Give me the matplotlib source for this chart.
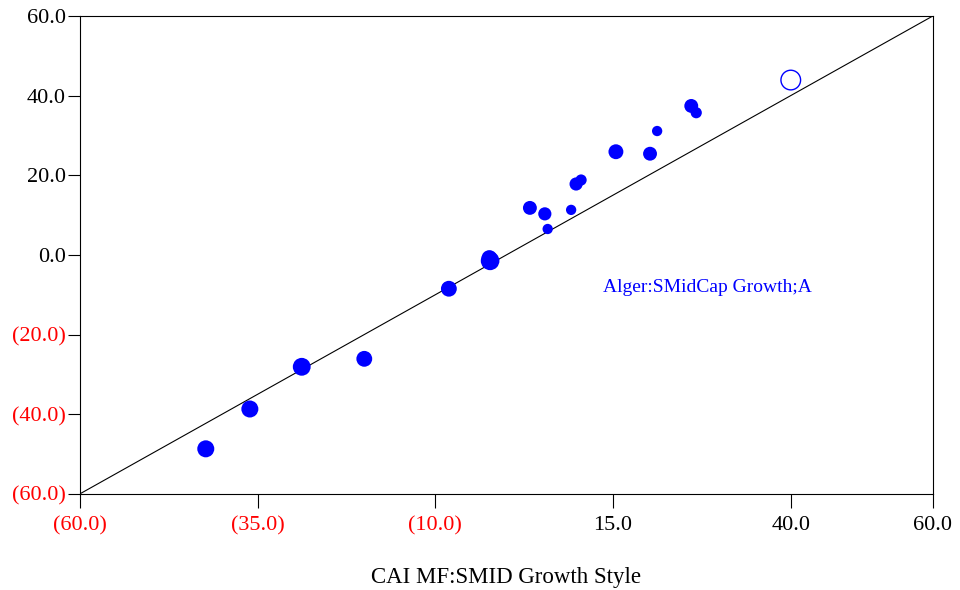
import numpy as np
import matplotlib.pyplot as plt

plt.rcParams['font.family'] = ['Liberation Serif', 'DejaVu Serif']

# Datos de los fondos (x = estilo, y = fondo)
x_vals = [-42.3, -36.1, -28.8, -20.0, -8.1, -2.3, -2.4, 3.3, 5.4, 5.8, 9.1, 9.8, 10.5, 15.4, 20.2, 21.2, 26.0, 26.7]
y_vals = [-48.7, -38.7, -28.1, -26.1, -8.5, -1.5, -0.8, 11.8, 10.3, 6.5, 11.3, 17.8, 18.8, 25.9, 25.4, 31.1, 37.4, 35.7]
tamanos = [150, 150, 165, 130, 130, 180, 130, 100, 90, 55, 55, 90, 65, 115, 100, 55, 100, 65]

# Fondo destacado
x_dest = [40.0]
y_dest = [43.9]
etiqueta_dest = 'Alger:SMidCap Growth;A'

ticks_x = [-60, -35, -10, 15, 40, 60]
ticks_y = [-60, -40, -20, 0, 20, 40, 60]
titulo_x = 'CAI MF:SMID Growth Style'


def formato(v):
    return f'({abs(v):.1f})' if v < 0 else f'{v:.1f}'


fig = plt.figure(figsize=(9.6, 5.9), dpi=100)
ax = fig.add_axes([0.0833, 0.163, 0.8885, 0.810])

ax.plot([-60, 60], [-60, 60], color='black', linewidth=0.8, zorder=1)
ax.scatter(x_vals, y_vals, s=tamanos, color='#0000FF', edgecolors='none', zorder=3)
ax.scatter(x_dest, y_dest, s=200, facecolors='none', edgecolors='#0000FF', linewidths=1.0, zorder=3)
ax.text(13.6, -8.3, etiqueta_dest, color='#0000FF', fontsize=14, va='center', ha='left')

ax.set_xlim(-60, 60)
ax.set_ylim(-60, 60)
ax.set_xticks(ticks_x)
ax.set_yticks(ticks_y)
ax.set_xticklabels([formato(v) for v in ticks_x], fontsize=16)
ax.set_yticklabels([formato(v) for v in ticks_y], fontsize=16)
for lbl, v in zip(ax.get_xticklabels(), ticks_x):
    lbl.set_color('red' if v < 0 else 'black')
for lbl, v in zip(ax.get_yticklabels(), ticks_y):
    lbl.set_color('red' if v < 0 else 'black')

ax.tick_params(axis='x', direction='out', length=10, width=0.8, pad=6)
ax.tick_params(axis='y', direction='out', length=9, width=0.8, pad=1)
for s in ax.spines.values():
    s.set_linewidth(0.8)

ax.set_xlabel(titulo_x, fontsize=16.5, labelpad=23)

plt.savefig('out.png', dpi=100)
